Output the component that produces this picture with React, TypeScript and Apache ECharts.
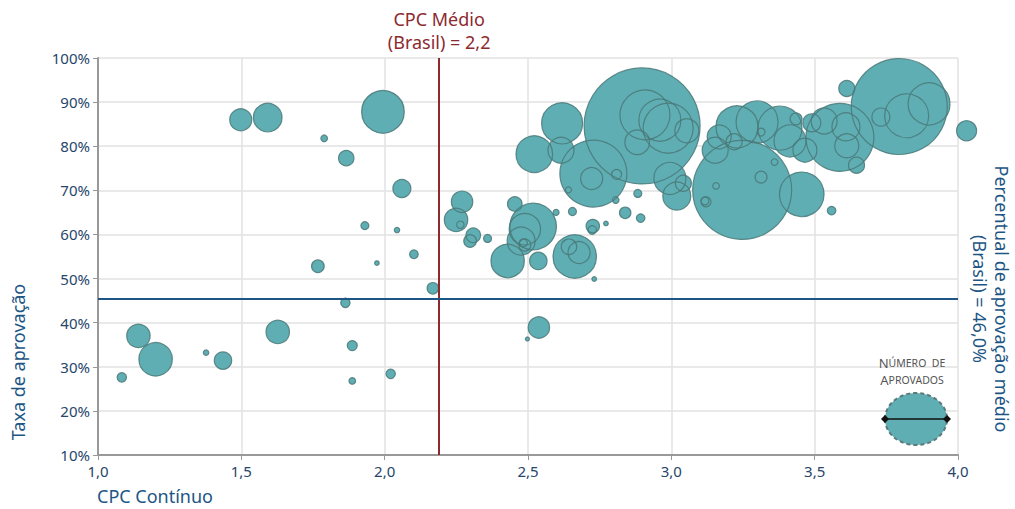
import React, { useEffect, useRef } from "react";
import * as echarts from "echarts";

// CPC Contínuo (x), Taxa de aprovação % (y), Número de aprovados (bubble size)
const cpc = [
  1.083, 1.141, 1.201, 1.377, 1.436, 1.627, 1.767, 1.973, 2.168, 1.863,
  1.887, 1.887, 2.021, 1.498, 1.592, 1.789, 1.866, 1.994, 2.06, 1.931,
  2.043, 2.102, 2.27, 2.249, 2.264, 2.309, 2.298, 2.359, 2.429, 2.454,
  2.518, 2.489, 2.476, 2.489, 2.484, 2.536, 2.598, 2.655, 2.663, 2.643,
  2.678, 2.731, 2.726, 2.724, 2.772, 2.839, 2.893, 2.538, 2.498, 2.522,
  2.728, 2.722, 2.809, 2.641, 2.806, 2.883, 2.619, 2.615, 2.898, 2.908,
  2.96, 2.989, 3.054, 2.881, 2.995, 3.019, 3.042, 3.247, 3.313, 3.156,
  3.121, 3.117, 3.36, 3.455, 3.559, 3.229, 3.299, 3.379, 3.167, 3.153,
  3.219, 3.313, 3.435, 3.414, 3.466, 3.588, 3.609, 3.612, 3.533, 3.49,
  3.646, 3.612, 3.795, 3.821, 3.899, 3.731, 4.03,
];
const taxa = [
  27.6, 37.0, 31.7, 33.2, 31.4, 37.9, 52.8, 53.5, 47.8, 44.5,
  34.8, 26.8, 28.4, 86.0, 86.5, 81.8, 77.3, 87.8, 70.4, 62.0,
  61.0, 55.5, 67.4, 63.3, 62.2, 59.8, 58.5, 59.1, 54.0, 66.9,
  61.8, 61.2, 58.5, 57.6, 58.1, 54.0, 65.0, 65.2, 55.0, 57.2,
  55.9, 49.9, 61.9, 61.0, 62.5, 64.9, 63.7, 38.9, 36.3, 78.2,
  73.8, 72.7, 73.6, 70.1, 67.8, 69.3, 85.2, 79.1, 84.6, 87.1,
  85.9, 84.1, 83.5, 80.9, 72.7, 68.7, 71.6, 70.1, 73.0, 71.0,
  67.4, 67.6, 76.4, 69.1, 65.4, 84.4, 85.5, 84.1, 82.1, 79.1,
  81.0, 83.2, 86.2, 81.2, 79.1, 82.0, 84.4, 80.1, 85.7, 85.3,
  75.7, 93.1, 89.0, 86.9, 89.6, 86.6, 83.5,
];
const aprovados = [
  88, 548, 1116, 29, 303, 548, 159, 21, 130, 88,
  100, 44, 88, 484, 818, 44, 237, 1815, 324, 64,
  29, 74, 458, 548, 55, 213, 159, 64, 1116, 213,
  2172, 986, 784, 144, 64, 303, 36, 64, 1884, 237,
  484, 21, 180, 74, 21, 130, 74, 458, 16, 1340,
  4489, 484, 100, 36, 44, 64, 1681, 676, 13456, 2500,
  1764, 2500, 576, 605, 1024, 784, 256, 9801, 144, 44,
  100, 64, 44, 1989, 74, 1764, 1764, 1936, 576, 676,
  256, 64, 144, 1024, 576, 4624, 784, 576, 676, 324,
  256, 256, 9216, 1936, 1764, 324, 400,
];

const cpcMedio = 2.19;
const taxaMedia = 45.4;
const xTicks = { min: 1, max: 4, interval: 0.5 };
const yTicks = { min: 10, max: 100, interval: 10 };

const FONT = "'Noto Sans', 'Open Sans', sans-serif";
const FILL = "#5faeb3";
const EDGE = "#4a7878";
const RED = "#8c2a2f";
const BLUE = "#1d5685";

export default function App() {
  const ref = useRef<HTMLDivElement>(null);
  useEffect(() => {
    if (!ref.current) return;
    const chart = echarts.init(ref.current, null, { renderer: "svg" });
    const data = cpc
      .map((x, i) => [x, taxa[i], aprovados[i]])
      .sort((a, b) => b[2] - a[2]);
    const size = (v: number[]) => Math.sqrt(v[2]);
    chart.setOption({
      animation: false,
      textStyle: { fontFamily: FONT },
      grid: { left: 98, right: 57, top: 58, bottom: 54 },
      xAxis: {
        type: "value",
        min: xTicks.min,
        max: xTicks.max,
        interval: xTicks.interval,
        axisLine: { show: true, lineStyle: { color: "#999", width: 2 } },
        axisTick: { show: true, length: 5, lineStyle: { color: "#999" } },
        axisLabel: {
          color: "#27466a",
          fontSize: 15,
          margin: 8,
          formatter: (v: number) => v.toFixed(1).replace(".", ","),
        },
        splitLine: { show: true, lineStyle: { color: "#e2e2e2", width: 1.5 } },
      },
      yAxis: {
        type: "value",
        min: yTicks.min,
        max: yTicks.max,
        interval: yTicks.interval,
        axisLine: { show: true, lineStyle: { color: "#999", width: 2 } },
        axisTick: { show: true, length: 5, lineStyle: { color: "#999" } },
        axisLabel: { color: "#27466a", fontSize: 15, margin: 8, formatter: "{value}%" },
        splitLine: { show: true, lineStyle: { color: "#e2e2e2", width: 1.5 } },
      },
      series: [
        {
          type: "scatter",
          name: "fill",
          clip: false,
          data,
          symbolSize: size,
          itemStyle: { color: FILL, borderWidth: 0, opacity: 1 },
          z: 2,
          markLine: {
            silent: true,
            symbol: "none",
            z: 10,
            data: [
              {
                xAxis: cpcMedio,
                lineStyle: { color: RED, width: 2, type: "solid" },
                label: {
                  show: true,
                  position: "end",
                  formatter: "CPC Médio\n(Brasil) = 2,2",
                  color: RED,
                  fontSize: 18,
                  lineHeight: 23,
                  distance: 5,
                  fontFamily: FONT,
                },
              },
              {
                yAxis: taxaMedia,
                lineStyle: { color: BLUE, width: 2, type: "solid" },
                label: { show: false },
              },
            ],
          },
        },
        {
          type: "scatter",
          name: "outline",
          clip: false,
          data,
          symbolSize: size,
          itemStyle: { color: "rgba(0,0,0,0)", borderColor: EDGE, borderWidth: 1.2, opacity: 0.85 },
          z: 3,
        },
      ],
      graphic: [
        {
          type: "text",
          x: 97,
          y: 496,
          z: 100,
          style: {
            text: "CPC Contínuo",
            fill: BLUE,
            font: `18px ${FONT}`,
            textAlign: "left",
            textVerticalAlign: "middle",
          },
        },
        {
          type: "text",
          x: 18,
          y: 362,
          z: 100,
          rotation: Math.PI / 2,
          style: {
            text: "Taxa de aprovação",
            fill: BLUE,
            font: `18px ${FONT}`,
            textAlign: "center",
            textVerticalAlign: "middle",
          },
        },
        {
          type: "text",
          x: 991,
          y: 299,
          z: 100,
          rotation: -Math.PI / 2,
          style: {
            text: "Percentual de aprovação médio\n(Brasil) = 46,0%",
            fill: BLUE,
            font: `18px ${FONT}`,
            lineHeight: 22,
            textAlign: "center",
            textVerticalAlign: "middle",
          },
        },
        {
          type: "text",
          x: 912,
          y: 371,
          z: 100,
          style: {
            text: "{b|N}{s|ÚMERO  DE}\n{b|A}{s|PROVADOS}",
            fill: "#555",
            textAlign: "center",
            textVerticalAlign: "middle",
            rich: {
              b: { fontSize: 13, fill: "#555", fontFamily: FONT, lineHeight: 17 },
              s: { fontSize: 10.5, fill: "#555", fontFamily: FONT, lineHeight: 17 },
            },
          },
        },
        {
          type: "ellipse",
          z: 100,
          shape: { cx: 916, cy: 419, rx: 31, ry: 26 },
          style: { fill: FILL, stroke: "#5c7a7b", lineWidth: 2, lineDash: [4, 3] },
        },
        {
          type: "line",
          z: 101,
          shape: { x1: 885, y1: 419, x2: 947, y2: 419 },
          style: { stroke: "#111", lineWidth: 1.5 },
        },
        {
          type: "polygon",
          z: 101,
          shape: { points: [[881, 419], [885, 415], [889, 419], [885, 423]] },
          style: { fill: "#111" },
        },
        {
          type: "polygon",
          z: 101,
          shape: { points: [[943, 419], [947, 415], [951, 419], [947, 423]] },
          style: { fill: "#111" },
        },
      ],
    });
    return () => chart.dispose();
  }, []);
  return <div ref={ref} style={{ width: 1015, height: 509, position: "absolute", left: 0, top: 0 }} />;
}
